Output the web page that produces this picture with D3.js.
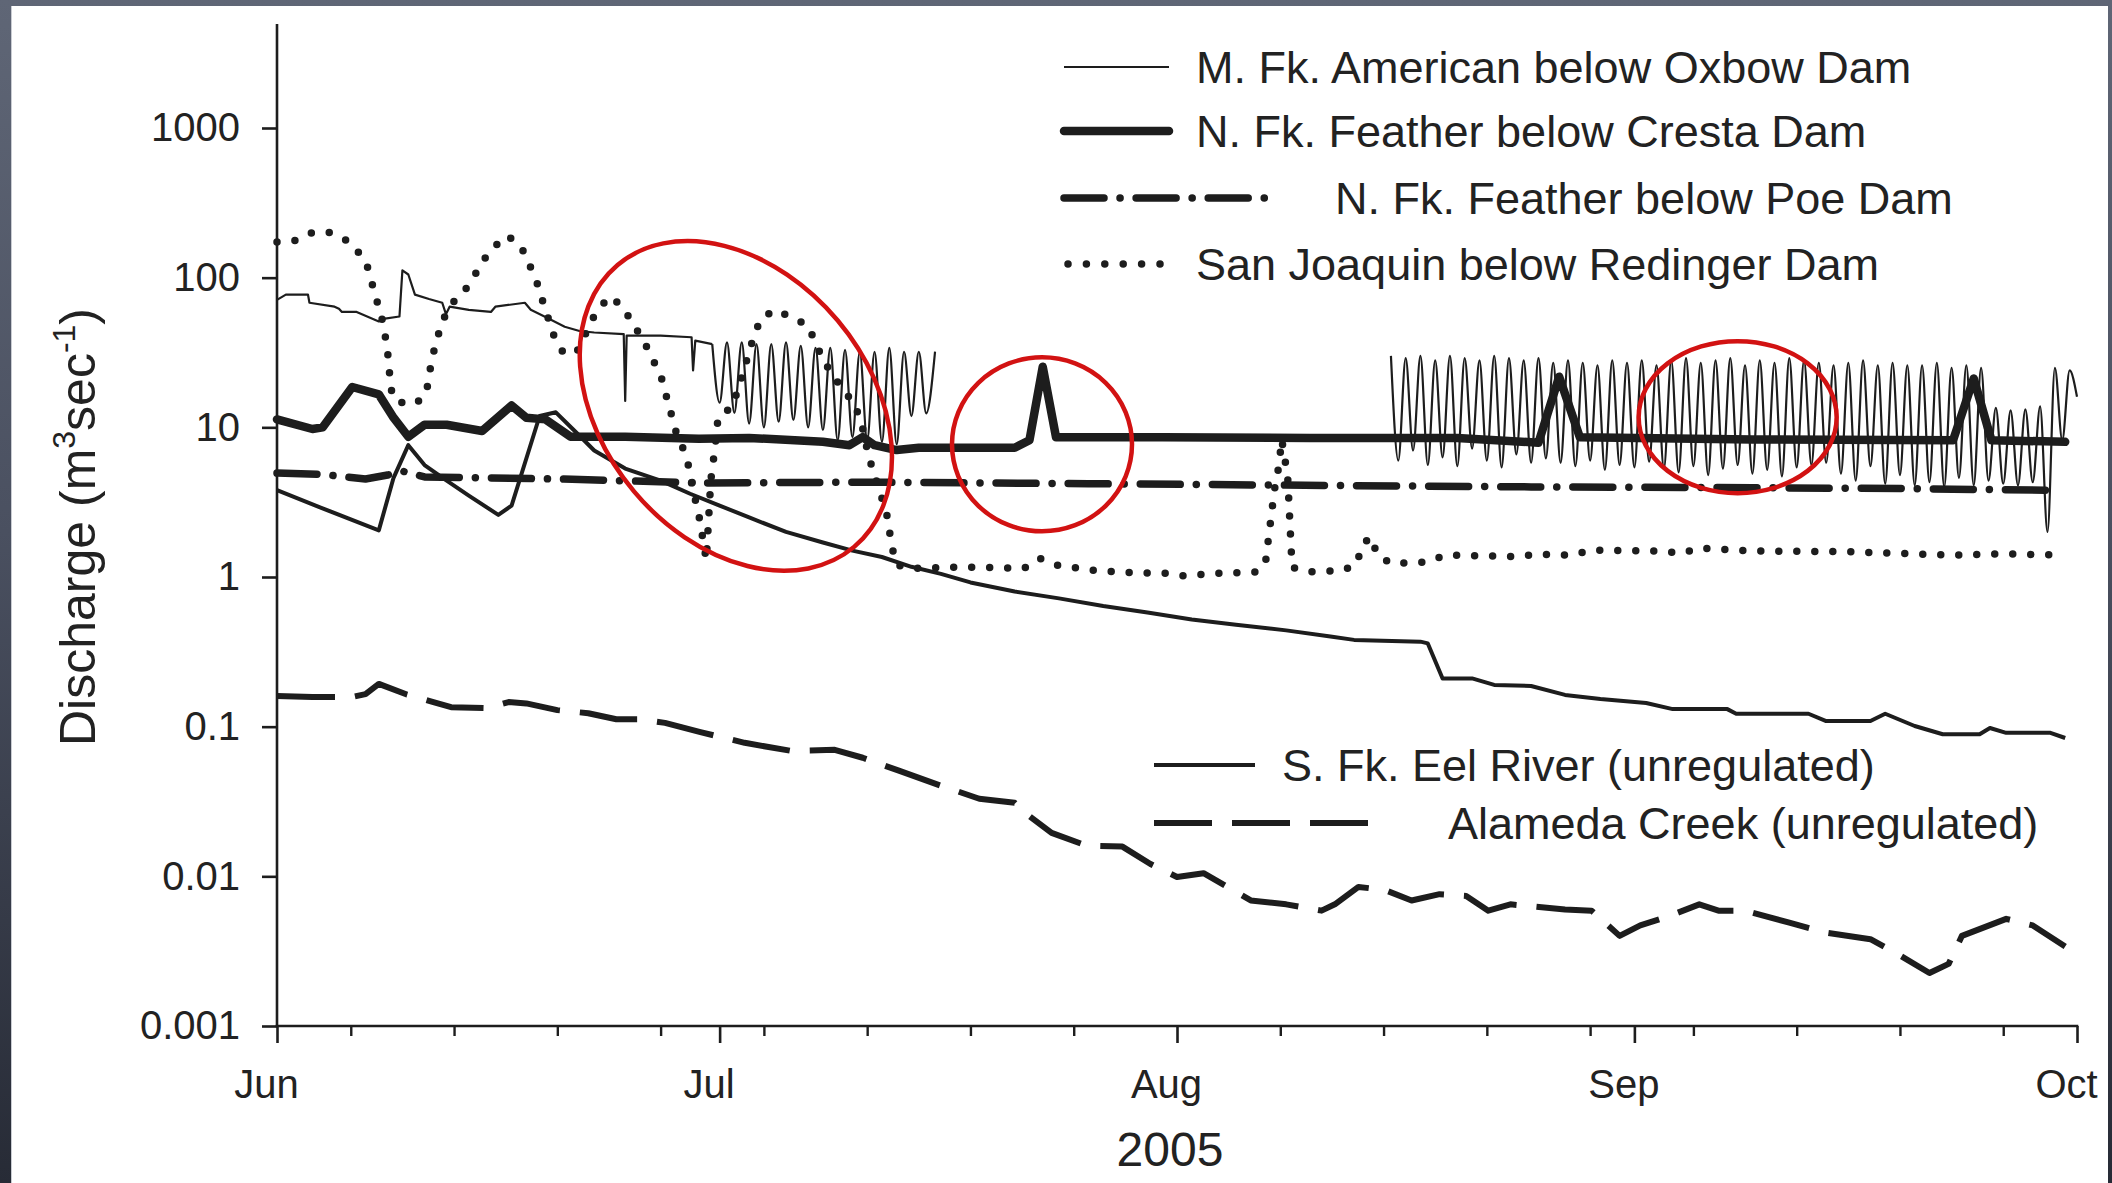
<!DOCTYPE html>
<html>
<head>
<meta charset="utf-8">
<script src="https://cdn.jsdelivr.net/npm/d3@7"></script>
<style>
  html, body {
    margin: 0;
    padding: 0;
    width: 2112px;
    height: 1183px;
    overflow: hidden;
    background: linear-gradient(180deg, #5f6676 0%, #4a5060 45%, #272b36 100%);
  }
  svg { display: block; }
  text { font-family: "Liberation Sans", Arial, Helvetica, sans-serif; fill: #222; }
</style>
</head>
<body>
<svg id="chart" width="2112" height="1183"></svg>
<script>
// Summer 2005 discharge record, days counted from 1 June 2005, flows in m3/s.
const seasonStart = new Date(2005, 5, 1);
const seasonEnd = new Date(2005, 9, 1);

const yTickValues = [0.001, 0.01, 0.1, 1, 10, 100, 1000];
const yTickLabels = ["0.001", "0.01", "0.1", "1", "10", "100", "1000"];
const monthLabels = ["Jun", "Jul", "Aug", "Sep", "Oct"];
const yearLabel = "2005";

// M. Fk. American below Oxbow Dam: early-summer record
const americanDays = [0, 0.6, 2.1, 2.2, 3.9, 4.2, 4.4, 5.4, 6.9, 7.2, 8.3, 8.5, 8.9, 9.35, 10.3, 11.2, 11.45, 11.7, 13, 14.5, 14.8, 16.8, 17.2, 18.3, 19.5, 20.5, 21.5, 23.5, 23.6, 23.7, 26, 28.1, 28.2, 28.35, 29.5];
const americanFlow = [71, 77, 77, 68, 64, 62, 59, 59, 51, 53, 55, 112, 105, 77, 72, 68, 57, 64, 61, 59, 64, 68, 61, 54, 47, 44, 43, 42, 15, 41, 41, 40, 24, 38, 36];

// American: daily peaking releases (peak then trough each day)
const americanPulseStart = [29.5, 75.5];
const americanPulseEnd = [44.6, 122];
const americanPulseEndFlow = [32, 16];
const americanPeak1 = [36, 37, 37, 36, 36, 37, 35, 34, 34, 33, 32, 32, 34, 32, 32];
const americanTrough1 = [14.6, 12.5, 10.6, 10.0, 10.9, 11.2, 10.0, 9.6, 8.2, 8.6, 8.2, 8.0, 7.7, 11.9, 12.4];
const americanPeak2 = [30, 29, 30, 28, 30, 29, 28, 30, 29, 28, 29, 27, 28, 27, 26, 28, 27, 28, 26, 28, 29, 27, 28, 29, 26, 28, 27, 29, 28, 27, 26, 27, 28, 26, 27, 26, 26, 27, 25, 26, 25, 13.5, 13, 13.2, 13.8, 25, 24];
const americanTrough2 = [6.0, 7.0, 5.6, 6.3, 5.5, 7.2, 6.0, 5.4, 6.6, 5.8, 6.2, 5.8, 5.5, 6.0, 5.2, 5.6, 5.4, 5.9, 5.3, 5.0, 5.5, 4.8, 5.3, 5.6, 4.9, 5.2, 4.7, 5.4, 5.6, 5.8, 4.9, 4.4, 5.5, 4.2, 4.8, 4.1, 4.3, 4.0, 4.6, 4.1, 4.4, 4.2, 4.1, 4.3, 2.0, 8.2, 8.2];

// N. Fk. Feather below Cresta Dam
const crestaDays = [0, 2.4, 3.1, 5.1, 6.9, 7.9, 8.9, 10, 11.5, 13.9, 15.9, 16.9, 18.2, 19.9, 23.6, 28.6, 32, 37, 38.8, 39.7, 40.5, 42, 43.5, 50.0, 51.0, 51.9, 52.8, 60, 70, 80, 85.5, 86.9, 88.3, 100, 113.6, 115, 116.2, 121.2];
const crestaFlow = [11.3, 9.75, 10, 18.6, 16.6, 11.6, 8.65, 10.4, 10.4, 9.45, 14, 11.6, 11.3, 8.65, 8.65, 8.4, 8.5, 8.0, 7.6, 8.6, 7.6, 7.05, 7.3, 7.3, 8.2, 25.4, 8.6, 8.6, 8.5, 8.5, 7.9, 21.8, 8.6, 8.3, 8.2, 21.2, 8.2, 8.0];

// N. Fk. Feather below Poe Dam
const poeDays = [0, 3, 6, 7.5, 8.5, 10, 20, 28.5, 40, 55, 67, 85, 100, 110, 120];
const poeFlow = [4.95, 4.85, 4.52, 4.8, 5.1, 4.66, 4.5, 4.25, 4.3, 4.2, 4.12, 4.0, 3.95, 3.9, 3.8];

// San Joaquin below Redinger Dam
const sanJoaquinDays = [0, 1.2, 2.4, 3.6, 4.8, 6.0, 6.3, 6.7, 7.1, 7.3, 7.5, 7.6, 7.7, 7.9, 8.1, 9.35, 10.1, 10.3, 10.5, 10.9, 11.1, 11.8, 12.9, 13.6, 14.4, 15.6, 16.5, 17.1, 17.6, 18.0, 18.8, 19.4, 20.3, 21.5, 22.5, 23.3, 24.1, 24.9, 25.5, 26.0, 26.4, 26.7, 27.0, 27.5, 27.9, 28.2, 28.4, 28.7, 28.9, 29.1, 29.4, 29.7, 29.9, 30.8, 31.2, 32.3, 32.8, 33.8, 35, 36, 36.6, 37.3, 38.2, 39.1, 39.6, 40.1, 40.9, 41.3, 41.5, 41.7, 42, 43.1, 45.8, 48.2, 50.6, 51.7, 52.9, 55.3, 57.7, 60.2, 61.4, 63.9, 66.4, 67.0, 67.3, 67.6, 67.9, 68.1, 68.5, 68.8, 69.9, 72.3, 73.2, 73.5, 74.1, 74.6, 75.5, 77.9, 79.2, 84.1, 85.3, 87.8, 89, 93.9, 95.2, 96.4, 100, 106, 113.6, 117, 121];
const sanJoaquinFlow = [173, 177, 200, 200, 176, 131, 103, 74, 54, 43, 31.6, 24.9, 18.6, 15.6, 14.8, 14.3, 16.6, 21.7, 29, 40, 49, 66, 86.5, 112, 151, 191, 165, 123, 94, 70, 40, 31.6, 31.6, 55.5, 75, 66, 50, 37, 28, 22.4, 16, 12.5, 9.6, 7.3, 5.5, 4.0, 3.1, 2.3, 1.69, 1.3, 4.4, 7.5, 11.8, 13.5, 17.3, 40, 53.5, 61, 53.5, 48, 34.6, 25.4, 18.7, 14.5, 10.9, 6.4, 3.6, 2.73, 2.06, 1.56, 1.2, 1.14, 1.16, 1.16, 1.14, 1.33, 1.2, 1.11, 1.07, 1.06, 1.02, 1.06, 1.08, 1.25, 2.17, 3.8, 5.5, 8.3, 4.7, 1.16, 1.08, 1.11, 1.23, 1.6, 1.86, 1.4, 1.23, 1.26, 1.40, 1.37, 1.42, 1.40, 1.51, 1.49, 1.44, 1.56, 1.49, 1.48, 1.40, 1.43, 1.40];

// S. Fk. Eel River (unregulated)
const eelDays = [0, 3, 6.9, 7.9, 8.9, 10, 11.5, 13, 15, 15.9, 17.8, 18.9, 20.3, 21.5, 23.6, 26, 28, 30, 32, 34.5, 37, 39, 41, 43, 45, 47, 50, 53, 56, 59, 62, 65, 68.4, 71.4, 73, 77.5, 78, 79, 81, 82.5, 85, 87.3, 89.7, 92.8, 94.6, 98.3, 98.9, 103.8, 105, 108, 109, 111, 112.9, 115.4, 116.1, 117.2, 120.2, 121.2];
const eelFlow = [3.8, 2.9, 2.05, 4.6, 7.6, 5.6, 4.4, 3.5, 2.6, 3.0, 11.9, 12.6, 9.2, 7.0, 5.3, 4.4, 3.6, 3.0, 2.5, 2.0, 1.7, 1.5, 1.36, 1.17, 1.05, 0.92, 0.80, 0.72, 0.64, 0.58, 0.52, 0.48, 0.44, 0.40, 0.38, 0.37, 0.36, 0.21, 0.21, 0.19, 0.187, 0.163, 0.153, 0.144, 0.131, 0.131, 0.122, 0.122, 0.109, 0.109, 0.122, 0.101, 0.089, 0.089, 0.098, 0.091, 0.091, 0.084];

// Alameda Creek (unregulated)
const alamedaDays = [0, 2.4, 5.1, 6.0, 6.9, 8.8, 10.6, 11.8, 14.2, 15.7, 16.9, 19.0, 21.1, 23.0, 24.5, 26.3, 28.7, 31.7, 34.8, 37.8, 39.7, 42.1, 45.1, 47.6, 50.0, 50.6, 52.5, 54.9, 57.3, 59.2, 61.0, 62.8, 66.0, 68.4, 70.8, 71.7, 73.3, 75.1, 76.9, 78.8, 80.6, 82.1, 83.6, 87.3, 89.1, 91.0, 92.4, 94.3, 96.4, 97.7, 99.5, 102.5, 105.0, 108.0, 109.9, 112.0, 113.3, 114.2, 117.2, 119.0, 121.2];
const alamedaFlow = [0.160, 0.158, 0.158, 0.165, 0.193, 0.164, 0.146, 0.135, 0.133, 0.146, 0.143, 0.129, 0.123, 0.112, 0.112, 0.106, 0.092, 0.078, 0.069, 0.070, 0.062, 0.051, 0.040, 0.033, 0.031, 0.027, 0.0195, 0.016, 0.0158, 0.0121, 0.0099, 0.0105, 0.0069, 0.0065, 0.0059, 0.0065, 0.0085, 0.0081, 0.0069, 0.0076, 0.0074, 0.0059, 0.0065, 0.0060, 0.0059, 0.0040, 0.0047, 0.0054, 0.0065, 0.0059, 0.0059, 0.0049, 0.0042, 0.0038, 0.0030, 0.00226, 0.0026, 0.0040, 0.0052, 0.0047, 0.0034];

// Highlighted episodes: [day, flow] at the centre of each ring
const highlightDays = [31.1, 51.85, 99.0];
const highlightFlows = [13.9, 7.7, 11.7];

const legendTop = [
  "M. Fk. American below Oxbow Dam",
  "N. Fk. Feather below Cresta Dam",
  "N. Fk. Feather below Poe Dam",
  "San Joaquin below Redinger Dam"
];
const legendBottom = ["S. Fk. Eel River (unregulated)", "Alameda Creek (unregulated)"];

// ---------------------------------------------------------------------------

const svg = d3.select("#chart");
const W = 2112, H = 1183;

// slide frame: white sheet on the dark backdrop
svg.append("rect").attr("x", 11).attr("y", 6).attr("width", W - 15).attr("height", H - 6).attr("fill", "#ffffff");
svg.append("line").attr("x1", 11.5).attr("x2", 11.5).attr("y1", 6).attr("y2", H)
  .attr("stroke", "#c9ccd2").attr("stroke-width", 1);

const plotLeft = 277, plotRight = 2077, plotBottom = 1026, axisTop = 24;

const x = d3.scaleTime().domain([seasonStart, seasonEnd]).range([plotLeft, plotRight]);
const y = d3.scaleLog().domain([0.001, 1000]).range([plotBottom, 128]);

const dayToDate = d => d3.timeMinute.offset(seasonStart, Math.round(d * 1440));

const line = d3.line()
  .x(d => x(dayToDate(d[0])))
  .y(d => y(d[1]));

const ink = "#1d1d1d";

// ---- axes ----
const yAxis = d3.axisLeft(y)
  .tickValues(yTickValues)
  .tickFormat((d, i) => yTickLabels[i])
  .tickSize(15)
  .tickPadding(22);

const gy = svg.append("g").attr("transform", `translate(${plotLeft},0)`).call(yAxis);
gy.select(".domain").remove();
gy.selectAll(".tick line").attr("stroke", ink).attr("stroke-width", 2.6);
gy.selectAll(".tick text").attr("font-size", 40).attr("fill", "#222")
  .attr("font-family", "Liberation Sans, Arial, sans-serif");

const monthTicks = d3.timeMonth.range(seasonStart, d3.timeDay.offset(seasonEnd, 1));
const xAxisMajor = d3.axisBottom(x)
  .tickValues(monthTicks)
  .tickFormat((d, i) => monthLabels[i])
  .tickSize(17);
const gx = svg.append("g").attr("transform", `translate(0,${plotBottom})`).call(xAxisMajor);
gx.select(".domain").remove();
gx.selectAll(".tick line").attr("stroke", ink).attr("stroke-width", 2.6);
gx.selectAll(".tick text")
  .attr("font-size", 40).attr("fill", "#222")
  .attr("font-family", "Liberation Sans, Arial, sans-serif")
  .attr("dy", null).attr("y", 72).attr("dx", -11);

const weekTicks = d3.timeMonday.range(seasonStart, seasonEnd)
  .filter(d => d.getDate() !== 1);
const xAxisMinor = d3.axisBottom(x).tickValues(weekTicks).tickFormat("").tickSize(10);
const gxm = svg.append("g").attr("transform", `translate(0,${plotBottom})`).call(xAxisMinor);
gxm.select(".domain").remove();
gxm.selectAll(".tick line").attr("stroke", ink).attr("stroke-width", 2.4);

// axis lines
svg.append("line").attr("x1", plotLeft).attr("x2", plotLeft).attr("y1", axisTop).attr("y2", plotBottom + 1.3)
  .attr("stroke", ink).attr("stroke-width", 2.6);
svg.append("line").attr("x1", plotLeft - 1.3).attr("x2", plotRight + 1.3).attr("y1", plotBottom).attr("y2", plotBottom)
  .attr("stroke", ink).attr("stroke-width", 2.6);

// axis titles
svg.append("text")
  .attr("x", 1170).attr("y", 1166)
  .attr("text-anchor", "middle").attr("font-size", 48)
  .text(yearLabel);

const yTitle = svg.append("text")
  .attr("transform", "translate(95,527) rotate(-90)")
  .attr("text-anchor", "middle").attr("font-size", 50);
yTitle.append("tspan").text("Discharge (m");
yTitle.append("tspan").attr("font-size", 32).attr("dy", -20).text("3");
yTitle.append("tspan").attr("dy", 20).text("sec");
yTitle.append("tspan").attr("font-size", 32).attr("dy", -20).text("-1");
yTitle.append("tspan").attr("dy", 20).text(")");

// ---- series styles ----
const styles = {
  american: { width: 2.2, dash: null, cap: "butt", join: "round" },
  cresta: { width: 8.5, dash: null, cap: "round", join: "round" },
  poe: { width: 7.5, dash: "40 16 0.1 16", cap: "round", join: "round" },
  sanJoaquin: { width: 7.5, dash: "0 18", cap: "round", join: "round" },
  eel: { width: 4, dash: null, cap: "butt", join: "round" },
  alameda: { width: 6, dash: "58 20", cap: "butt", join: "round" }
};

function styled(sel, st) {
  sel.attr("fill", "none").attr("stroke", ink)
    .attr("stroke-width", st.width)
    .attr("stroke-linecap", st.cap)
    .attr("stroke-linejoin", st.join);
  if (st.dash) sel.attr("stroke-dasharray", st.dash);
  return sel;
}

const plot = svg.append("g");

styled(plot.append("path").datum(d3.zip(eelDays, eelFlow)).attr("d", line), styles.eel);
styled(plot.append("path").datum(d3.zip(alamedaDays, alamedaFlow)).attr("d", line), styles.alameda);
styled(plot.append("path").datum(d3.zip(sanJoaquinDays, sanJoaquinFlow)).attr("d", line), styles.sanJoaquin);
styled(plot.append("path").datum(d3.zip(poeDays, poeFlow)).attr("d", line), styles.poe);
styled(plot.append("path").datum(d3.zip(crestaDays, crestaFlow)).attr("d", line), styles.cresta);

// American: early record plus two runs of daily peaking
styled(plot.append("path").datum(d3.zip(americanDays, americanFlow)).attr("d", line), styles.american);

const pulseLine = d3.line()
  .x(d => x(dayToDate(d[0])))
  .y(d => y(d[1]))
  .curve(d3.curveMonotoneX);

[[americanPeak1, americanTrough1], [americanPeak2, americanTrough2]].forEach(([peaks, troughs], k) => {
  const pts = [];
  const start = americanPulseStart[k], end = americanPulseEnd[k];
  peaks.forEach((p, i) => {
    const t = start + i;
    if (t < end) pts.push([t, p]);
    if (t + 0.5 < end) pts.push([t + 0.5, troughs[i]]);
  });
  pts.push([end, americanPulseEndFlow[k]]);
  styled(plot.append("path").datum(pts).attr("d", pulseLine), styles.american);
});

// ---- legends ----
const legTop = svg.append("g");
const topKeys = ["american", "cresta", "poe", "sanJoaquin"];
const topRowY = [67, 131, 198, 264];
const topLineEnd = [1169, 1169, 1266, 1160];
const topTextX = [1196, 1196, 1335, 1196];
topKeys.forEach((k, i) => {
  const l = styled(legTop.append("line")
    .attr("x1", k === "sanJoaquin" ? 1068 : 1064).attr("x2", topLineEnd[i])
    .attr("y1", topRowY[i]).attr("y2", topRowY[i]), styles[k]);
  if (k === "sanJoaquin") l.attr("stroke-dasharray", "0 18.4");
  legTop.append("text").attr("x", topTextX[i]).attr("y", topRowY[i] + 16)
    .attr("font-size", 45).text(legendTop[i]);
});

const legBot = svg.append("g");
const botKeys = ["eel", "alameda"];
const botRowY = [765, 823];
const botLineEnd = [1255, 1371];
const botTextX = [1282, 1448];
botKeys.forEach((k, i) => {
  styled(legBot.append("line")
    .attr("x1", 1154).attr("x2", botLineEnd[i])
    .attr("y1", botRowY[i]).attr("y2", botRowY[i]), styles[k]);
  legBot.append("text").attr("x", botTextX[i]).attr("y", botRowY[i] + 16)
    .attr("font-size", 45).text(legendBottom[i]);
});

// ---- highlight rings ----
const ringRx = [184, 90, 99];
const ringRy = [133, 87, 76];
const ringTilt = [50, 0, 0];
const rings = svg.append("g");
highlightDays.forEach((d, i) => {
  rings.append("ellipse")
    .attr("transform", `translate(${x(dayToDate(d))},${y(highlightFlows[i])}) rotate(${ringTilt[i]})`)
    .attr("rx", ringRx[i]).attr("ry", ringRy[i])
    .attr("fill", "none").attr("stroke", "#d21212").attr("stroke-width", 4.5);
});
</script>
</body>
</html>
